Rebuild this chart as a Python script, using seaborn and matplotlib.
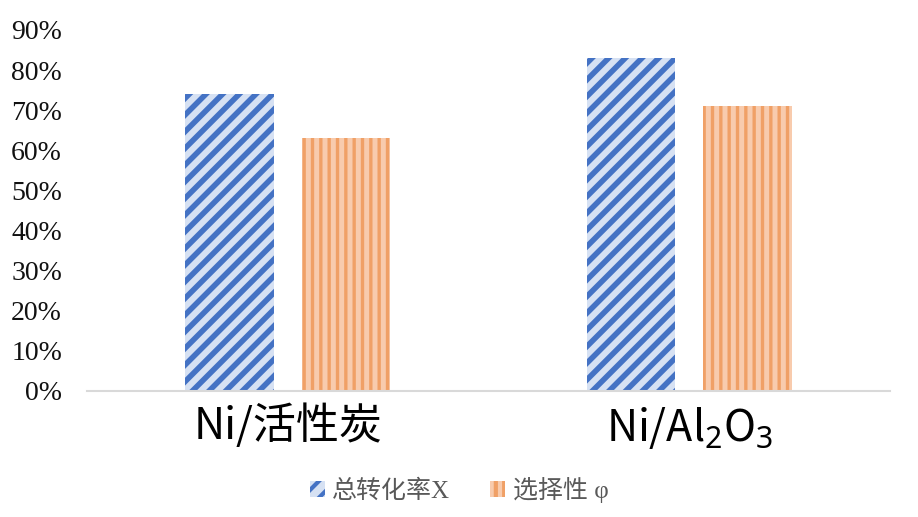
import numpy as np
import pandas as pd
import seaborn as sns
import matplotlib.pyplot as plt
from matplotlib.patches import Patch
from matplotlib.ticker import PercentFormatter

# --- data ---
catalysts = ['Ni/活性炭', 'Ni/Al$_2$O$_3$']
series = ['总转化率X', '选择性 φ']
conversion = [0.74, 0.83]
selectivity = [0.63, 0.71]

df = pd.DataFrame({
    'catalyst': catalysts * 2,
    'series': [series[0]] * 2 + [series[1]] * 2,
    'value': conversion + selectivity,
})

sns.set_style('white')
plt.rcParams['font.family'] = ['Noto Sans CJK SC', 'DejaVu Sans']
plt.rcParams['mathtext.fontset'] = 'custom'
plt.rcParams['mathtext.rm'] = 'Noto Sans'
plt.rcParams['mathtext.it'] = 'Noto Sans'
plt.rcParams['hatch.linewidth'] = 3.0

fills = ['#d6e1f3', '#f8cbad']
stripes = ['#4472c4', '#f0a066']
hatches = ['//', '||']

fig = plt.figure(figsize=(9.18, 5.17), dpi=100)
ax = fig.add_axes([87 / 918, 126 / 517, (890 - 87) / 918, 361 / 517])

sns.barplot(data=df, x='catalyst', y='value', hue='series', order=catalysts,
            hue_order=series, palette=fills, width=0.58, gap=0.24,
            ax=ax, legend=False)

for i, cont in enumerate(ax.containers):
    for p in cont:
        p.set_facecolor(fills[i])
        p.set_edgecolor(stripes[i])
        p.set_hatch(hatches[i])
        p.set_linewidth(0)
        if hasattr(p, 'set_hatch_linewidth'):
            p.set_hatch_linewidth(4.0 if i == 0 else 2.4)

ax.set_xlim(-0.5, 1.5)
ax.set_ylim(0, 0.9)
ax.set_yticks(np.arange(0, 0.91, 0.1))
ax.yaxis.set_major_formatter(PercentFormatter(1, decimals=0))
ax.set_xlabel('')
ax.set_ylabel('')
ax.tick_params(axis='y', length=0, pad=18)
ax.tick_params(axis='x', length=0, pad=10)
for lab in ax.get_yticklabels():
    lab.set_family('Liberation Serif')
    lab.set_fontsize(20)
    lab.set_color('#111111')
for lab in ax.get_xticklabels():
    lab.set_fontsize(31)
    lab.set_color('black')

sns.despine(ax=ax, left=True, top=True, right=True)
ax.spines['bottom'].set_color('#d9d9d9')
ax.spines['bottom'].set_linewidth(1.5)

handles = [Patch(facecolor=fills[i], edgecolor=stripes[i], hatch=hatches[i],
                 linewidth=0, label=series[i]) for i in range(2)]
fig.legend(handles=handles, loc='center', bbox_to_anchor=(0.5, 0.052), ncol=2,
           frameon=False, handlelength=0.6, handleheight=0.6, handletextpad=0.3,
           columnspacing=1.6,
           prop={'family': ['Liberation Serif', 'Noto Sans CJK SC'], 'size': 18},
           labelcolor='#595959')

fig.savefig('out.png', dpi=100)
